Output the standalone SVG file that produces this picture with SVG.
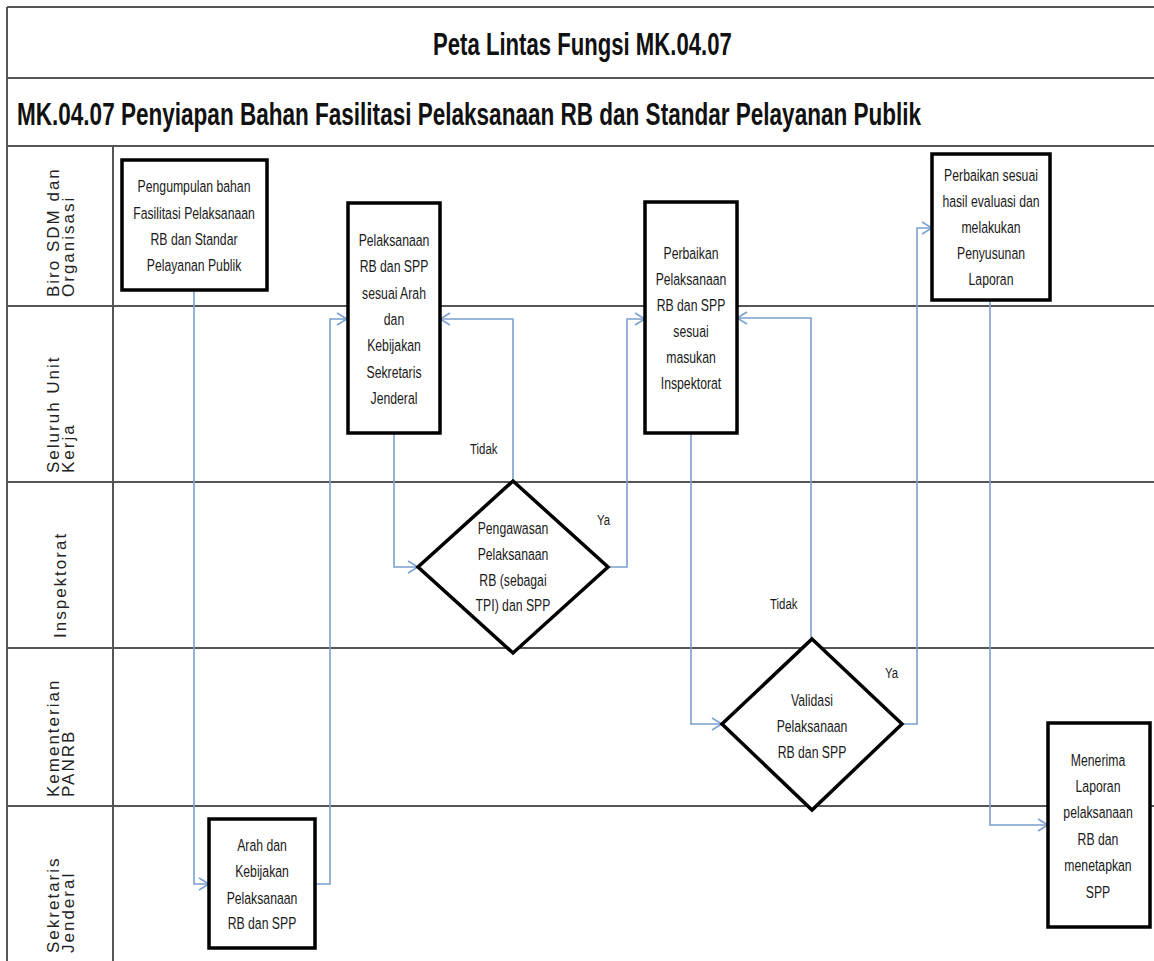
<svg xmlns="http://www.w3.org/2000/svg" width="1154" height="961" viewBox="0 0 1154 961">
<defs>
<style>
.grid{stroke:#555;stroke-width:2;fill:none}
.box{fill:#fff;stroke:#000;stroke-width:3.5}
.con{fill:none;stroke:#7aa0cf;stroke-width:1.6}
.nt{font-family:"Liberation Sans",Arial,sans-serif;font-size:17px;fill:#1a1a1a;text-anchor:middle}
.lbl{font-family:"Liberation Sans",Arial,sans-serif;font-size:15px;fill:#1a1a1a}
.lane{font-family:"Liberation Sans",Arial,sans-serif;font-size:17px;letter-spacing:2px;fill:#222}
.title{font-family:"Liberation Sans",Arial,sans-serif;font-size:31px;font-weight:bold;fill:#111}
</style>
<marker id="arr" markerWidth="12" markerHeight="14" refX="11" refY="7" orient="auto" markerUnits="userSpaceOnUse">
<path d="M1,1 L11,7 L1,13" fill="none" stroke="#7aa0cf" stroke-width="1.6"/>
</marker>
</defs>
<rect width="1154" height="961" fill="#fff"/>
<g id="grid">
<path class="grid" d="M7,7 H1154 M7,78 H1154 M7,146 H1154 M7,306 H1154 M7,482 H1154 M7,648 H1154 M7,806 H1154 M7,7 V961 M113,146 V961"/>
</g>
<g id="titles">
<text class="title" transform="translate(433,55) scale(0.714,1)" x="0" y="0">Peta Lintas Fungsi MK.04.07</text>
<text class="title" transform="translate(17,125) scale(0.727,1)" x="0" y="0">MK.04.07 Penyiapan Bahan Fasilitasi Pelaksanaan RB dan Standar Pelayanan Publik</text>
</g>
<g id="lanes">
<text class="lane" transform="translate(59,297) rotate(-90)">Biro SDM dan<tspan x="0" dy="15">Organisasi</tspan></text>
<text class="lane" transform="translate(59,473) rotate(-90)">Seluruh  Unit<tspan x="0" dy="15">Kerja</tspan></text>
<text class="lane" transform="translate(66,638) rotate(-90)">Inspektorat</text>
<text class="lane" transform="translate(59,797) rotate(-90)">Kementerian<tspan x="0" dy="15">PANRB</tspan></text>
<text class="lane" transform="translate(59,953) rotate(-90)">Sekretaris<tspan x="0" dy="15">Jenderal</tspan></text>
</g>
<g id="connectors">
<path class="con" marker-end="url(#arr)" d="M194,290 V884 H209"/>
<path class="con" marker-end="url(#arr)" d="M315,884 H330 V319 H347"/>
<path class="con" marker-end="url(#arr)" d="M394,433 V567 H418"/>
<path class="con" marker-end="url(#arr)" d="M513,481 V319 H440"/>
<path class="con" marker-end="url(#arr)" d="M608,567 H627 V319 H645"/>
<path class="con" marker-end="url(#arr)" d="M691,433 V724 H722"/>
<path class="con" marker-end="url(#arr)" d="M811,639 V318 H737"/>
<path class="con" marker-end="url(#arr)" d="M902,724 H917 V228 H932"/>
<path class="con" marker-end="url(#arr)" d="M990,300 V825 H1048"/>
<text class="lbl" transform="translate(470,454) scale(0.76,1)">Tidak</text>
<text class="lbl" transform="translate(597,525) scale(0.76,1)">Ya</text>
<text class="lbl" transform="translate(770,609) scale(0.76,1)">Tidak</text>
<text class="lbl" transform="translate(885,678) scale(0.76,1)">Ya</text>
</g>
<g id="n1">
<rect class="box" x="122" y="160" width="145" height="130"/>
<text class="nt" transform="translate(194,0) scale(0.72,1)"><tspan x="0" y="192">Pengumpulan  bahan</tspan><tspan x="0" y="219">Fasilitasi Pelaksanaan</tspan><tspan x="0" y="245">RB dan Standar</tspan><tspan x="0" y="271">Pelayanan Publik</tspan></text>
</g>
<g id="n2">
<rect class="box" x="348" y="203" width="92" height="230"/>
<text class="nt" transform="translate(394,0) scale(0.72,1)"><tspan x="0" y="246">Pelaksanaan</tspan><tspan x="0" y="272">RB dan SPP</tspan><tspan x="0" y="299">sesuai Arah</tspan><tspan x="0" y="325">dan</tspan><tspan x="0" y="351">Kebijakan</tspan><tspan x="0" y="378">Sekretaris</tspan><tspan x="0" y="404">Jenderal</tspan></text>
</g>
<g id="n3">
<rect class="box" x="645" y="202" width="92" height="231"/>
<text class="nt" transform="translate(691,0) scale(0.72,1)"><tspan x="0" y="259">Perbaikan</tspan><tspan x="0" y="285">Pelaksanaan</tspan><tspan x="0" y="311">RB dan SPP</tspan><tspan x="0" y="337">sesuai</tspan><tspan x="0" y="363">masukan</tspan><tspan x="0" y="389">Inspektorat</tspan></text>
</g>
<g id="n4">
<rect class="box" x="932" y="154" width="118" height="146"/>
<text class="nt" transform="translate(991,0) scale(0.72,1)"><tspan x="0" y="181">Perbaikan sesuai</tspan><tspan x="0" y="207">hasil evaluasi  dan</tspan><tspan x="0" y="233">melakukan</tspan><tspan x="0" y="259">Penyusunan</tspan><tspan x="0" y="285">Laporan</tspan></text>
</g>
<g id="d1">
<polygon class="box" points="513,481 608,567 513,653 418,567"/>
<text class="nt" transform="translate(513,0) scale(0.72,1)"><tspan x="0" y="534">Pengawasan</tspan><tspan x="0" y="560">Pelaksanaan</tspan><tspan x="0" y="586">RB (sebagai</tspan><tspan x="0" y="611">TPI) dan SPP</tspan></text>
</g>
<g id="d2">
<polygon class="box" points="812,639 902,724 812,810 722,724"/>
<text class="nt" transform="translate(812,0) scale(0.72,1)"><tspan x="0" y="706">Validasi</tspan><tspan x="0" y="732">Pelaksanaan</tspan><tspan x="0" y="758">RB dan SPP</tspan></text>
</g>
<g id="n5">
<rect class="box" x="1048" y="723" width="102" height="204"/>
<text class="nt" transform="translate(1098,0) scale(0.72,1)"><tspan x="0" y="766">Menerima</tspan><tspan x="0" y="792">Laporan</tspan><tspan x="0" y="818">pelaksanaan</tspan><tspan x="0" y="845">RB dan</tspan><tspan x="0" y="871">menetapkan</tspan><tspan x="0" y="898">SPP</tspan></text>
</g>
<g id="n6">
<rect class="box" x="209" y="819" width="106" height="129"/>
<text class="nt" transform="translate(262,0) scale(0.72,1)"><tspan x="0" y="851">Arah dan</tspan><tspan x="0" y="877">Kebijakan</tspan><tspan x="0" y="904">Pelaksanaan</tspan><tspan x="0" y="929">RB dan SPP</tspan></text>
</g>
</svg>
